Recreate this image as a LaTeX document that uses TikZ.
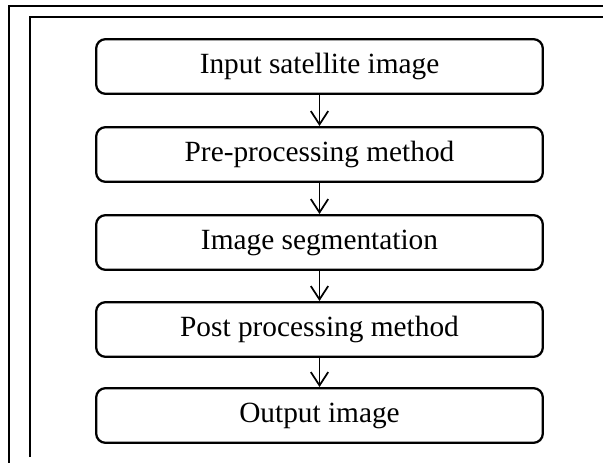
\documentclass[tikz,border=0pt]{standalone}
\usepackage{fontspec}
\setmainfont{Liberation Serif}
\usetikzlibrary{arrows.meta}

\tikzset{
  stepbox/.style={draw, line width=1.7pt, rounded corners=7pt,
    minimum width=335pt, minimum height=41pt, inner sep=0pt,
    font=\fontsize{22}{26}\selectfont},
  flow/.style={line width=1.3pt,
    -{Straight Barb[length=10pt,width=13pt,line width=1.3pt]}},
  frame/.style={line width=1.2pt}
}

\begin{document}
\begin{tikzpicture}[x=0.75pt,y=-0.75pt]

\useasboundingbox (0,0) rectangle (603,463);

% outer and inner frame
\draw[frame] (9,463) -- (9,6) -- (603,6);
\draw[frame] (30,457) -- (30,17) -- (603,17);

\node[stepbox] (b1) at (319.5,66.5) {Input satellite image};
\node[stepbox] (b2) at (319.5,154.5) {Pre-processing method};
\node[stepbox] (b3) at (319.5,242.5) {Image segmentation};
\node[stepbox] (b4) at (319.5,329.5) {Post processing method};
\node[stepbox] (b5) at (319.5,415.5) {Output image};

\foreach \i/\j in {1/2,2/3,3/4,4/5}
    \draw[flow] (b\i) -- (b\j);

\end{tikzpicture}
\end{document}
